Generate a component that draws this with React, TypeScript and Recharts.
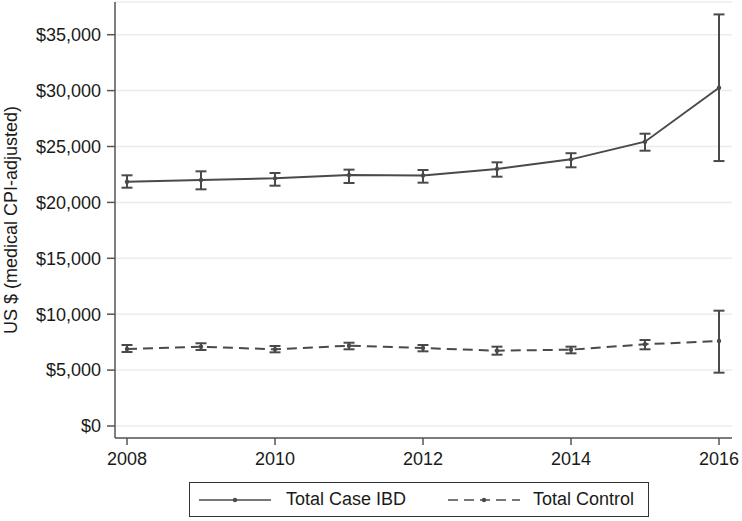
import React from 'react';
import { LineChart, Line, XAxis, YAxis, CartesianGrid, ErrorBar } from 'recharts';

const years = [2008, 2009, 2010, 2011, 2012, 2013, 2014, 2015, 2016];
const ibdMean = [21850, 22000, 22150, 22450, 22400, 22990, 23850, 25430, 30260];
const ibdLow = [21315, 21170, 21495, 21735, 21765, 22300, 23140, 24625, 23700];
const ibdHigh = [22424, 22780, 22630, 22930, 22900, 23585, 24400, 26145, 36815];
const ctlMean = [6890, 7095, 6860, 7185, 6975, 6735, 6830, 7310, 7600];
const ctlLow = [6620, 6800, 6590, 6860, 6680, 6380, 6500, 6860, 4770];
const ctlHigh = [7245, 7400, 7155, 7450, 7245, 7095, 7095, 7690, 10315];
const yTicks = [0, 5000, 10000, 15000, 20000, 25000, 30000, 35000];
const xTicks = [2008, 2010, 2012, 2014, 2016];

const data = years.map((year, i) => ({
  year,
  ibd: ibdMean[i],
  ibdErr: [ibdMean[i] - ibdLow[i], ibdHigh[i] - ibdMean[i]],
  ctl: ctlMean[i],
  ctlErr: [ctlMean[i] - ctlLow[i], ctlHigh[i] - ctlMean[i]],
}));

const FONT = '"Liberation Sans", Arial, Helvetica, sans-serif';
const INK = '#4a4a4a';

const LegendSymbol = ({ dashed }: { dashed?: boolean }) => (
  <svg width={72} height={10} style={{ display: 'block' }}>
    <line x1={0} y1={5} x2={72} y2={5} stroke={INK} strokeWidth={1.5} strokeDasharray={dashed ? '10 6' : undefined} />
    <circle cx={36} cy={5} r={2.2} fill={INK} />
  </svg>
);

const App = () => {
  return (
    <div style={{ position: 'absolute', left: 0, top: 0, width: 742, height: 521, background: '#fff', fontFamily: FONT }}>
      <LineChart width={742} height={521} data={data} margin={{ top: 2, right: 10, bottom: 53, left: 0 }}>
        <CartesianGrid vertical={false} stroke="#ececec" strokeWidth={1.5} />
        <XAxis
          dataKey="year"
          type="number"
          domain={[2008, 2016]}
          ticks={xTicks}
          height={30}
          padding={{ left: 12, right: 13 }}
          tickSize={7}
          tickMargin={7}
          stroke="#555"
          strokeWidth={1.5}
          tick={{ fill: '#1a1a1a', fontSize: 18, fontFamily: FONT }}
        />
        <YAxis
          width={115}
          type="number"
          domain={[-1073, 37925]}
          ticks={yTicks}
          allowDataOverflow
          tickSize={8}
          tickMargin={6}
          stroke="#555"
          strokeWidth={1.5}
          tickFormatter={(v: number) => `$${v.toLocaleString('en-US')}`}
          tick={{ fill: '#1a1a1a', fontSize: 18, fontFamily: FONT }}
          label={{
            value: 'US $ (medical CPI-adjusted)',
            angle: -90,
            position: 'insideLeft',
            offset: 11,
            style: { textAnchor: 'middle', fill: '#1a1a1a', fontSize: 18, fontFamily: FONT },
          }}
        />
        <Line
          dataKey="ibd"
          stroke={INK}
          strokeWidth={2}
          dot={{ r: 2.2, fill: INK, stroke: INK, strokeWidth: 0 }}
          activeDot={false}
          isAnimationActive={false}
        >
          <ErrorBar dataKey="ibdErr" direction="y" width={5.5} stroke={INK} strokeWidth={2} />
        </Line>
        <Line
          dataKey="ctl"
          stroke={INK}
          strokeWidth={2}
          strokeDasharray="10 6"
          dot={{ r: 2.2, fill: INK, stroke: INK, strokeWidth: 0 }}
          activeDot={false}
          isAnimationActive={false}
        >
          <ErrorBar dataKey="ctlErr" direction="y" width={5.5} stroke={INK} strokeWidth={2} />
        </Line>
      </LineChart>
      <div
        style={{
          position: 'absolute',
          left: 189,
          top: 482,
          width: 460,
          height: 35,
          boxSizing: 'border-box',
          border: '1px solid #333',
          display: 'flex',
          alignItems: 'center',
          fontSize: 18,
          color: '#1a1a1a',
        }}
      >
        <div style={{ marginLeft: 9 }}>
          <LegendSymbol />
        </div>
        <span style={{ marginLeft: 15 }}>Total Case IBD</span>
        <div style={{ position: 'absolute', left: 258 }}>
          <LegendSymbol dashed />
        </div>
        <span style={{ position: 'absolute', left: 343 }}>Total Control</span>
      </div>
    </div>
  );
};

export default App;
